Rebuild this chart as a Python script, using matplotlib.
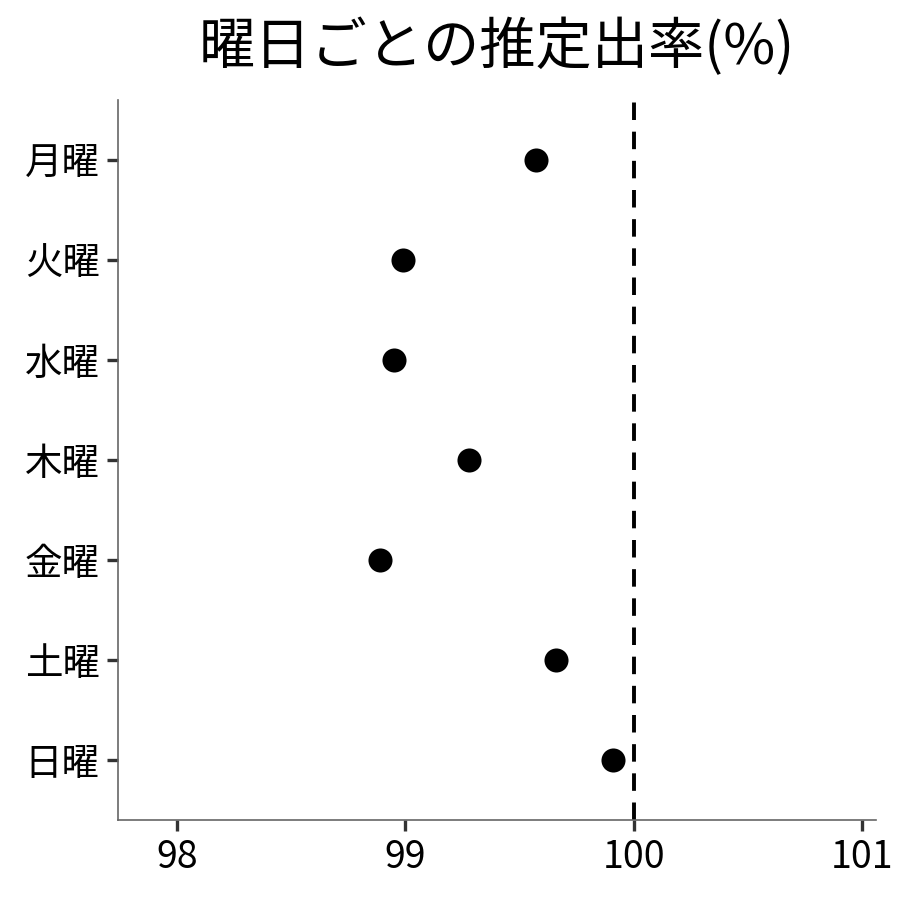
import numpy as np
import matplotlib
matplotlib.use("Agg")
import matplotlib.pyplot as plt

plt.rcParams['font.family'] = ['Noto Sans CJK JP', 'DejaVu Sans']

# data
days = ['月曜', '火曜', '水曜', '木曜', '金曜', '土曜', '日曜']
rates = [99.57, 98.99, 98.95, 99.28, 98.89, 99.66, 99.91]
ref_value = 100
xticks = [98, 99, 100, 101]

fig = plt.figure(figsize=(9, 9), dpi=100)
ax = fig.add_axes([0.131, 0.089, 0.842, 0.8])

ypos = np.arange(len(days))[::-1] + 1
ax.scatter(rates, ypos, s=300, color='black', zorder=3, linewidths=0)
ax.axvline(ref_value, color='black', linestyle=(0, (4.5, 3)), linewidth=2.8, zorder=2)

ax.set_yticks(ypos)
ax.set_yticklabels(days)
ax.set_xticks(xticks)
ax.set_xticklabels([str(v) for v in xticks])
ax.set_xlim(97.74, 101.06)
ax.set_ylim(0.4, 7.6)

for s in ['top', 'right']:
    ax.spines[s].set_visible(False)
for s in ['left', 'bottom']:
    ax.spines[s].set_color('#666666')
    ax.spines[s].set_linewidth(1.2)
ax.tick_params(axis='both', length=8, width=2.4, color='#333333', labelsize=27, pad=5)

ax.set_title('曜日ごとの推定出率(%)', fontsize=40.5, pad=26)

fig.savefig('out.png', dpi=100)
